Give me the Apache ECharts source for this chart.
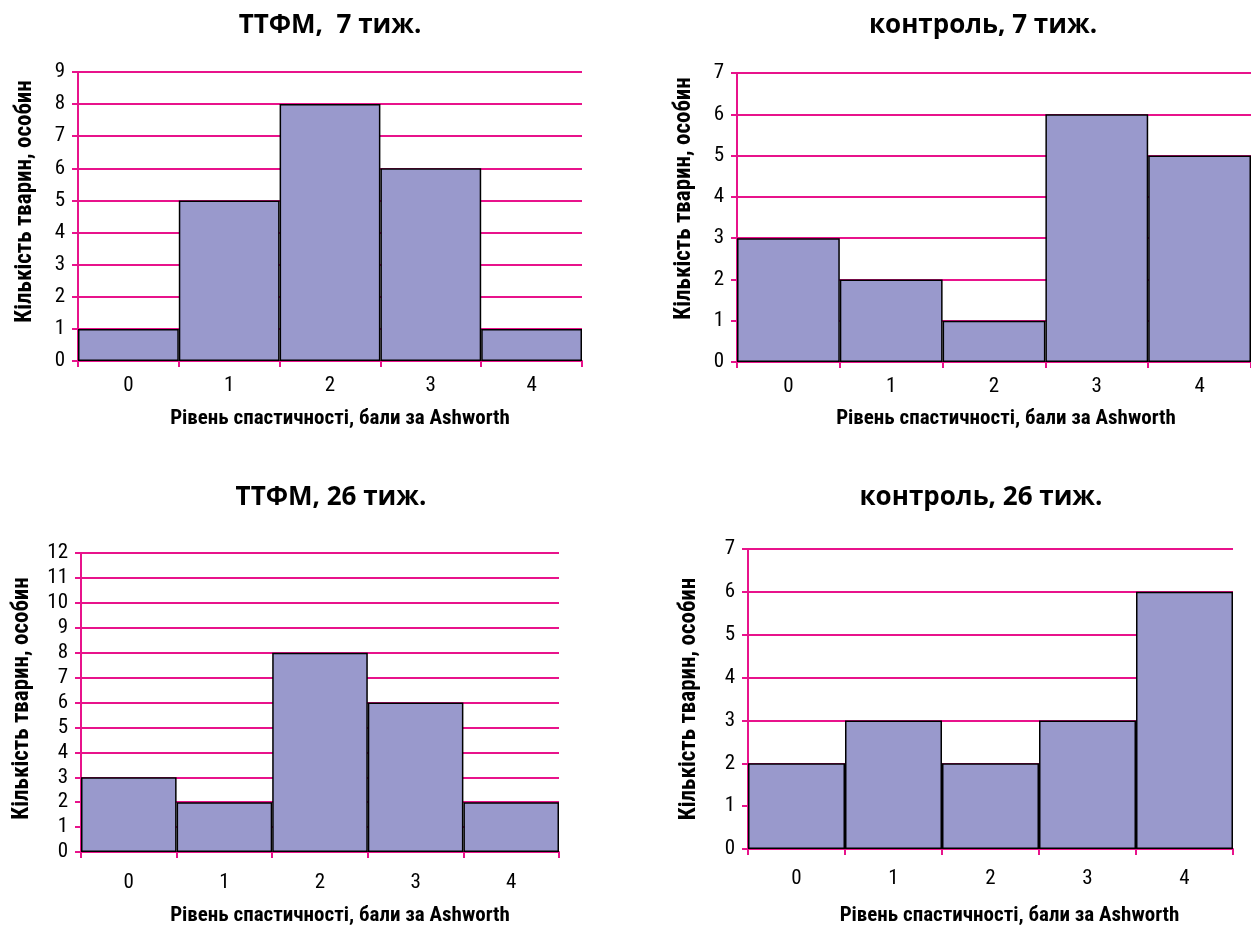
<!DOCTYPE html>
<html>
<head>
<meta charset="utf-8">
<script src="https://cdn.jsdelivr.net/npm/echarts@6/dist/echarts.min.js"></script>
<style>
html,body{margin:0;padding:0;background:#fff;}
#c{width:1251px;height:927px;}
</style>
</head>
<body>
<div id="c"></div>
<script>
// ---- data ----
const categories = ['0', '1', '2', '3', '4'];
const titles = ['ТТФМ,  7 тиж.', 'контроль, 7 тиж.', 'ТТФМ, 26 тиж.', 'контроль, 26 тиж.'];
const ttfm7 = [1, 5, 8, 6, 1];
const control7 = [3, 2, 1, 6, 5];
const ttfm26 = [3, 2, 8, 6, 2];
const control26 = [2, 3, 2, 3, 6];
const yMax = [9, 7, 12, 7];
const xName = 'Рівень спастичності, бали за Ashworth';
const yName = 'Кількість тварин, особин';

// ---- layout ----
const PINK = '#e8138b';
const BAR = '#9999cc';
const NARROW = '"Liberation Sans Narrow", "Roboto Condensed", "DejaVu Sans Condensed", "Arial Narrow", sans-serif';
const TITLEF = '"Open Sans", "Noto Sans", sans-serif';
const grids = [
  {left: 78, right: 669, top: 72, bottom: 566},
  {left: 737, right: -4, top: 73, bottom: 565},
  {left: 81, right: 692, top: 553, bottom: 73},
  {left: 748, right: 18, top: 549, bottom: 78}
];
const titlePos = [[325, 8], [978, 8], [326, 480], [976, 480]];
const yNameGap = [41, 41, 47, 47];
const yNameShift = [30, 38, 8, 0];   // left padding => shift upward by half
const xNameShift = [20, 24, 40, 38]; // left padding => shift right by half
const xLabelMargin = [14, 14, 20, 19];
const xNameGap = [47, 46, 53, 56];
const series = [ttfm7, control7, ttfm26, control26];

const option = {
  animation: false,
  backgroundColor: '#fff',
  title: titles.map((t, i) => ({
    text: t, left: titlePos[i][0], top: titlePos[i][1], textAlign: 'center',
    textStyle: {fontFamily: TITLEF, fontWeight: 'bold', fontSize: 26, color: '#000'}
  })),
  grid: grids,
  xAxis: grids.map((g, i) => ({
    type: 'category', gridIndex: i, data: categories,
    boundaryGap: true,
    name: xName, nameLocation: 'middle', nameGap: xNameGap[i],
    nameTextStyle: {fontFamily: NARROW, fontWeight: 'bold', fontSize: 21, color: '#000',
      padding: [0, 0, 0, xNameShift[i]]},
    axisLine: {show: true, lineStyle: {color: PINK, width: 2}},
    axisTick: {show: true, alignWithLabel: false, length: 6, lineStyle: {color: PINK, width: 2}},
    axisLabel: {fontFamily: NARROW, fontSize: 21, color: '#000', margin: xLabelMargin[i]},
    splitLine: {show: false}
  })),
  yAxis: grids.map((g, i) => ({
    type: 'value', gridIndex: i, min: 0, max: yMax[i], interval: 1,
    name: yName, nameLocation: 'middle', nameRotate: 90, nameGap: yNameGap[i],
    nameTextStyle: {fontFamily: NARROW, fontWeight: 'bold', fontSize: 23, color: '#000',
      padding: [0, 0, 0, yNameShift[i]]},
    axisLine: {show: true, lineStyle: {color: PINK, width: 2}},
    axisTick: {show: true, length: 6, lineStyle: {color: PINK, width: 2}},
    axisLabel: {fontFamily: NARROW, fontSize: 21, color: '#000', margin: 13},
    splitLine: {show: true, lineStyle: {color: PINK, width: 2}}
  })),
  series: series.map((d, i) => ({
    type: 'bar', xAxisIndex: i, yAxisIndex: i, data: d,
    barCategoryGap: '0%',
    itemStyle: {color: BAR, borderColor: '#000', borderWidth: 1.5},
    z: 3
  }))
};
const chart = echarts.init(document.getElementById('c'), null, {renderer: 'canvas'});
chart.setOption(option);
</script>
</body>
</html>
